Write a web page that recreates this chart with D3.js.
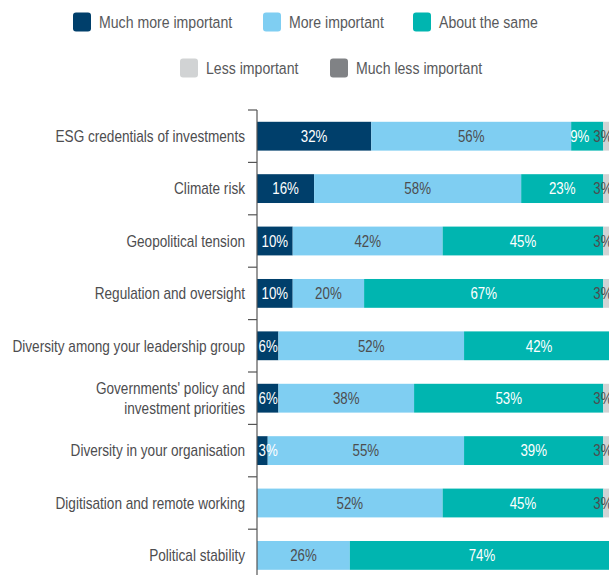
<!DOCTYPE html>
<html>
<head>
<meta charset="utf-8">
<script src="https://cdn.jsdelivr.net/npm/d3@7"></script>
<style>
  html, body { margin: 0; padding: 0; background: #fff; overflow: hidden; }
  svg { display: block; font-family: "Liberation Sans", Arial, sans-serif; }
</style>
</head>
<body>
<svg id="chart" width="609" height="575"></svg>
<script>
// Survey categories (top to bottom)
const categories = [
  "ESG credentials of investments",
  "Climate risk",
  "Geopolitical tension",
  "Regulation and oversight",
  "Diversity among your leadership group",
  "Governments' policy and\ninvestment priorities",
  "Diversity in your organisation",
  "Digitisation and remote working",
  "Political stability"
];

// Response series, share of respondents (%)
const seriesNames = ["Much more important", "More important", "About the same", "Less important", "Much less important"];
const muchMore  = [32, 16, 10, 10, 6, 6, 3, 0, 0];
const more      = [56, 58, 42, 20, 52, 38, 55, 52, 26];
const same      = [ 9, 23, 45, 67, 42, 53, 39, 45, 74];
const less      = [ 3,  3,  3,  3,  0,  3,  3,  3,  0];
const muchLess  = [ 0,  0,  0,  0,  0,  0,  0,  0,  0];

const colors = ["#003f6b", "#7fcef2", "#00b5b0", "#d1d3d4", "#808285"];
const labelColors = ["#ffffff", "#4d4d4f", "#ffffff", "#4d4d4f", "#ffffff"];

// Condensed type: a narrow horizontal scale applied around each text's anchor
const NARROW = 0.83;
const NARROW_CAT = 0.85;

const rows = categories.map((c, i) => ({
  category: c,
  "Much more important": muchMore[i],
  "More important": more[i],
  "About the same": same[i],
  "Less important": less[i],
  "Much less important": muchLess[i]
}));

const svg = d3.select("#chart");

const x = d3.scaleLinear().domain([0, 100]).range([257, 614]);
const y = d3.scaleBand().domain(categories).range([110, 581.6])
  .paddingInner(0.45).paddingOuter(0.225);

const stacked = d3.stack().keys(seriesNames)(rows);

// Bars
const layers = svg.append("g").selectAll("g")
  .data(stacked).join("g")
  .attr("fill", (d, i) => colors[i]);

layers.selectAll("rect")
  .data(d => d.filter(s => s[1] - s[0] > 0))
  .join("rect")
  .attr("x", d => x(d[0]))
  .attr("y", d => y(d.data.category))
  .attr("width", d => x(d[1]) - x(d[0]))
  .attr("height", y.bandwidth());

// Value labels: centred on their segment, kept inside the 0–100 span
// and nudged apart where neighbouring labels would collide
const [xmin, xmax] = x.range();
const labelGroup = svg.append("g");
const byRow = new Map(categories.map(c => [c, []]));
stacked.forEach((layer, li) => {
  layer.filter(s => s[1] - s[0] > 0).forEach(s => {
    const t = labelGroup.append("text")
      .attr("dy", "0.36em")
      .attr("text-anchor", "middle")
      .attr("fill", labelColors[li])
      .style("font-size", "16px")
      .text((s[1] - s[0]) + "%");
    const half = t.node().getComputedTextLength() * NARROW / 2;
    byRow.get(s.data.category).push({ t, half, cx: (x(s[0]) + x(s[1])) / 2 });
  });
});
byRow.forEach((items, cat) => {
  items.forEach(it => { it.cx = Math.max(xmin + it.half + 1.5, Math.min(xmax - it.half - 1.5, it.cx)); });
  for (let i = items.length - 2; i >= 0; i--) {
    const a = items[i], b = items[i + 1];
    const limit = b.cx - b.half - 4 - a.half;
    if (a.cx > limit) a.cx = limit;
  }
  items.forEach(it => it.t.attr("transform",
    `translate(${it.cx},${y(cat) + y.bandwidth() / 2}) scale(${NARROW},1)`));
});

// Category axis: vertical line with ticks between bands
const step = y.step();
const axisTop = y(categories[0]) - step * y.paddingOuter();
const g = svg.append("g").attr("stroke", "#555").attr("stroke-width", 1.2);
g.append("line")
  .attr("x1", x(0)).attr("x2", x(0))
  .attr("y1", axisTop).attr("y2", 575);
g.selectAll("line.tick")
  .data(d3.range(categories.length + 1))
  .join("line")
  .attr("class", "tick")
  .attr("x1", x(0) - 9).attr("x2", x(0))
  .attr("y1", i => axisTop + i * step)
  .attr("y2", i => axisTop + i * step);

// Category labels
const labels = svg.append("g")
  .selectAll("text")
  .data(categories)
  .join("text")
  .attr("text-anchor", "end")
  .attr("fill", "#4d4d4f")
  .style("font-size", "16px")
  .attr("transform", d => `translate(${x(0) - 12},${y(d) + y.bandwidth() / 2}) scale(${NARROW_CAT},1)`);

labels.each(function (d) {
  const lines = d.split("\n");
  const t = d3.select(this);
  lines.forEach((ln, i) => {
    t.append("tspan")
      .attr("x", 0)
      .attr("y", (i - (lines.length - 1) / 2) * 20)
      .attr("dy", "0.36em")
      .text(ln);
  });
});

// Legend
const legendPos = [
  { x: 73, y: 22 }, { x: 263, y: 22 }, { x: 413, y: 22 },
  { x: 180, y: 68 }, { x: 330, y: 68 }
];
const legend = svg.append("g")
  .selectAll("g")
  .data(seriesNames)
  .join("g")
  .attr("transform", (d, i) => `translate(${legendPos[i].x},${legendPos[i].y})`);
legend.append("rect")
  .attr("x", 0).attr("y", -9.5)
  .attr("width", 18).attr("height", 19)
  .attr("rx", 3)
  .attr("fill", (d, i) => colors[i]);
legend.append("text")
  .attr("transform", `translate(26,0) scale(${NARROW},1)`)
  .attr("dy", "0.36em")
  .attr("fill", "#58595b")
  .style("font-size", "17px")
  .text(d => d);
</script>
</body>
</html>
